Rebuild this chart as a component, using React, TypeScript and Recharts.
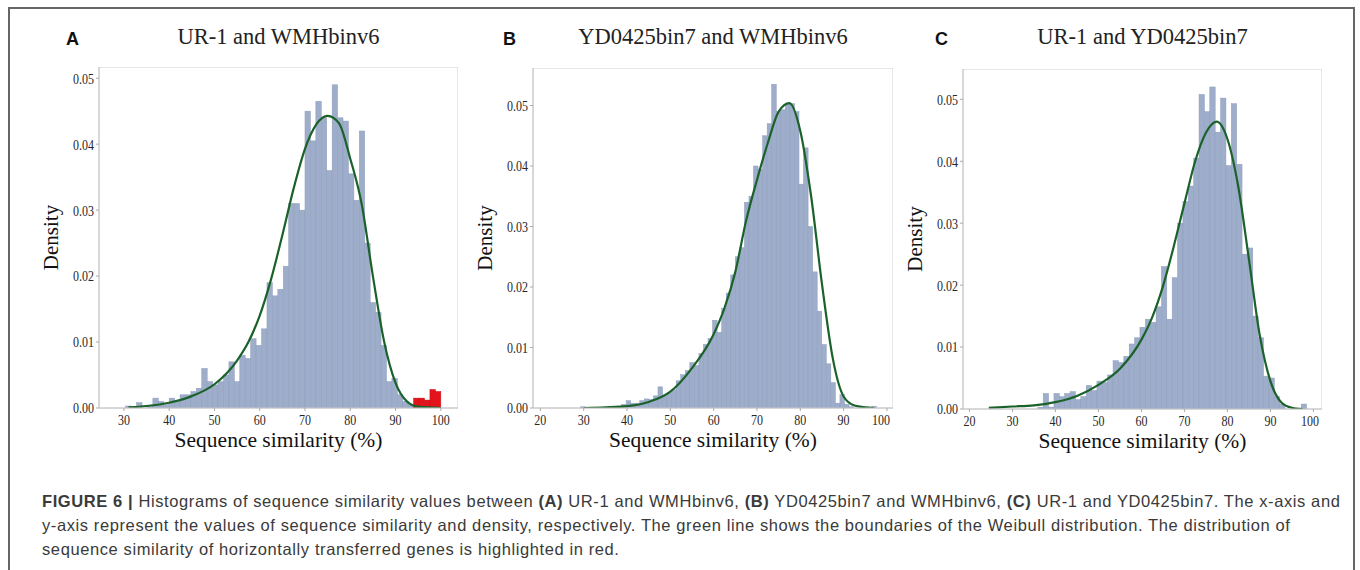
import React from "react";
import { ComposedChart, Bar, Line, XAxis, YAxis, ReferenceArea } from "recharts";

// A: UR-1 and WMHbinv6
const aBinStart = 30.4;
const aBinWidth = 1.2;
const aHist = [
  0.0003, 0.0001, 0.0008, 0, 0.0002, 0.0015, 0.001, 0.0005, 0.0015, 0.001,
  0.002, 0.002, 0.0025, 0.003, 0.006, 0.004, 0.0035, 0.004, 0.005, 0.007,
  0.004, 0.008, 0.0075, 0.0105, 0.0095, 0.012, 0.019, 0.017, 0.018, 0.0215,
  0.031, 0.031, 0.03, 0.045, 0.0405, 0.0465, 0.044, 0.036, 0.049, 0.044,
  0.0435, 0.0355, 0.0315, 0.042, 0.025, 0.016, 0.0145, 0.0095, 0.004, 0.0045,
  0.002, 0.001, 0.0005,
];
// horizontally transferred genes (red)
const aHgt = [0.0015, 0.0015, 0.0012, 0.0028, 0.0025];
const aCurveX = [31, 35, 40, 45, 50, 55, 57.5, 60, 62.5, 65, 67.5, 70, 72.5, 75, 77.5, 80, 82.5, 85, 87.5, 90, 92.5, 95, 100];
const aCurveY = [
  0.0001, 0.0003, 0.0008, 0.0018, 0.0036, 0.0072, 0.01, 0.014, 0.0195, 0.0262, 0.0333, 0.0393,
  0.043, 0.0443, 0.0432, 0.0378, 0.031, 0.02, 0.01, 0.0038, 0.001, 0.0002, 0,
];
const aTicks = [30, 40, 50, 60, 70, 80, 90, 100];

// B: YD0425bin7 and WMHbinv6
const bBinStart = 29.3;
const bBinWidth = 1.05;
const bHist = [
  0.0002, 0, 0, 0, 0, 0, 0, 0, 0, 0.0006,
  0.0012, 0.0008, 0.0008, 0.0012, 0.0015, 0.0014, 0.002, 0.0035, 0.002, 0.0025,
  0.003, 0.0045, 0.0055, 0.0062, 0.0075, 0.007, 0.009, 0.0105, 0.0115, 0.0145,
  0.0125, 0.0165, 0.019, 0.022, 0.025, 0.0265, 0.034, 0.035, 0.04, 0.0395,
  0.045, 0.047, 0.0535, 0.049, 0.0493, 0.0503, 0.0503, 0.049, 0.037, 0.043,
  0.03, 0.0225, 0.016, 0.0105, 0.0073, 0.0042, 0.0008, 0.0022, 0.0006, 0.0002,
  0, 0, 0, 0, 0.0003,
];
const bCurveX = [30, 35, 40, 45, 50, 55, 60, 62.5, 65, 67.5, 70, 72.5, 75, 77.5, 80, 82.5, 85, 87.5, 90, 92.5, 95, 97];
const bCurveY = [
  0, 0.0001, 0.0003, 0.001, 0.0027, 0.0066, 0.0122, 0.0165, 0.0225, 0.031, 0.0377, 0.0438,
  0.049, 0.0504, 0.0458, 0.035, 0.0205, 0.0082, 0.0019, 0.0004, 0.0001, 0,
];
const bTicks = [20, 30, 40, 50, 60, 70, 80, 90, 100];

// C: UR-1 and YD0425bin7
const cBinStart = 35.95;
const cBinWidth = 1.25;
const cHist = [
  0.0003, 0.0025, 0.0003, 0.0025, 0.002, 0.0025, 0.0028, 0.0015, 0.002, 0.0038,
  0.003, 0.0045, 0.0043, 0.0055, 0.0078, 0.0075, 0.0085, 0.0105, 0.0115, 0.0132,
  0.0145, 0.014, 0.0165, 0.023, 0.0145, 0.0212, 0.03, 0.0335, 0.036, 0.0405,
  0.0508, 0.048, 0.052, 0.0447, 0.0502, 0.0393, 0.0493, 0.0395, 0.025, 0.026,
  0.015, 0.0115, 0.0053, 0.005, 0.002, 0.0008, 0, 0, 0, 0.0008,
];
const cCurveX = [24.5, 30, 35, 40, 45, 50, 55, 60, 62.5, 65, 67.5, 70, 72.5, 75, 77.5, 80, 82.5, 85, 87.5, 90, 92.5, 95, 97.5];
const cCurveY = [
  0.0002, 0.0004, 0.0006, 0.0011, 0.0021, 0.0039, 0.0065, 0.0112, 0.0148, 0.0198, 0.0262, 0.0332,
  0.04, 0.0446, 0.0464, 0.0436, 0.036, 0.0242, 0.012, 0.0045, 0.0011, 0.0002, 0,
];
const cTicks = [20, 30, 40, 50, 60, 70, 80, 90, 100];

const yTicks = [0, 0.01, 0.02, 0.03, 0.04, 0.05];

const serif = "'Liberation Serif', 'DejaVu Serif', serif";
const sans = "'Liberation Sans', Arial, sans-serif";

const Y_W = 75;
const X_H = 55;

function binRows(start: number, width: number, blue: number[], red: number[] = []) {
  const rows = blue.map((v, i) => ({ x: start + width * (i + 0.5), blue: v, red: 0 }));
  red.forEach((v, i) => {
    const k = blue.length + i;
    rows.push({ x: start + width * (k + 0.5), blue: 0, red: v });
  });
  return rows;
}

function curveRows(xs: number[], ys: number[]) {
  return xs.map((x, i) => ({ x, y: ys[i] }));
}

// histogram bar: keep recharts' centre, widen to the full bin
function binShape(w: number, fill: string, stroke: string) {
  return (p: any) => {
    if (!p.height || p.height <= 0) return <g />;
    const cx = p.x + p.width / 2;
    return <rect x={cx - w / 2} y={p.y} width={w} height={p.height} fill={fill} stroke={stroke} strokeWidth={0.5} />;
  };
}

// narrow serif tick labels like the matplotlib output
function condTick(isY: boolean) {
  return (p: any) => {
    const label = isY ? Number(p.payload.value).toFixed(2) : String(p.payload.value);
    return (
      <g transform={`translate(${p.x},${p.y}) scale(0.8,1)`}>
        <text x={0} y={0} dy={isY ? "0.36em" : "0.78em"} textAnchor={isY ? "end" : "middle"}
          fontFamily={serif} fontSize={15} fill="#262626">{label}</text>
      </g>
    );
  };
}

type PanelProps = {
  left: number;
  top: number;
  plotW: number;
  plotH: number;
  domain: [number, number];
  yMax: number;
  ticks: number[];
  rows: { x: number; blue: number; red: number }[];
  curve: { x: number; y: number }[];
  binWidth: number;
};

function Panel({ left, top, plotW, plotH, domain, yMax, ticks, rows, curve, binWidth }: PanelProps) {
  const barSize = (binWidth * plotW) / (domain[1] - domain[0]);
  return (
    <div style={{ position: "absolute", left, top }}>
      <ComposedChart
        width={Y_W + plotW}
        height={plotH + X_H}
        data={rows}
        margin={{ top: 0, right: 0, left: 0, bottom: 0 }}
        barGap={0}
        barCategoryGap={0}
      >
        <XAxis
          dataKey="x"
          type="number"
          domain={domain}
          ticks={ticks}
          height={X_H}
          tick={condTick(false)}
          tickSize={3}
          tickLine={{ stroke: "#aaa" }}
          axisLine={{ stroke: "#c8c8c8" }}
          allowDataOverflow
          label={{ value: "Sequence similarity (%)", position: "insideBottom", offset: 16, style: { fontFamily: serif, fontSize: 21.5, fill: "#111" } }}
        />
        <YAxis
          type="number"
          domain={[0, yMax]}
          ticks={yTicks}
          width={Y_W}
          tick={condTick(true)}
          tickSize={3}
          tickLine={{ stroke: "#aaa" }}
          axisLine={{ stroke: "#c8c8c8" }}
          allowDataOverflow
          label={{ value: "Density", angle: -90, position: "insideLeft", offset: 27, style: { fontFamily: serif, fontSize: 21, fill: "#111", textAnchor: "middle" } }}
        />
        <ReferenceArea x1={domain[0]} x2={domain[1]} y1={0} y2={yMax} fill="none" fillOpacity={0} stroke="#cfcfcf" />
        <Bar dataKey="blue" stackId="h" shape={binShape(barSize, "#9eadca", "#8d9dbd")} isAnimationActive={false} />
        <Bar dataKey="red" stackId="h" shape={binShape(barSize, "#e3121b", "#c40f17")} isAnimationActive={false} />
        <Line data={curve} dataKey="y" type="monotone" stroke="#1b622a" strokeWidth={2.2} dot={false} activeDot={false} isAnimationActive={false} />
      </ComposedChart>
    </div>
  );
}

const titleStyle: React.CSSProperties = { position: "absolute", top: 24, fontFamily: serif, fontSize: 22.5, color: "#222", whiteSpace: "nowrap", textAlign: "center" };
const letterStyle: React.CSSProperties = { position: "absolute", top: 29, fontFamily: sans, fontWeight: 700, fontSize: 18, color: "#111" };
const capStyle: React.CSSProperties = { position: "absolute", left: 42, fontFamily: sans, fontSize: 16.5, letterSpacing: 0.6, color: "#3a3a3a", whiteSpace: "nowrap" };

export default function App() {
  return (
    <div style={{ position: "absolute", left: 0, top: 0, width: 1360, height: 570, background: "#fff", overflow: "hidden" }}>
      <div style={{ position: "absolute", left: 8, top: 7, width: 1343, height: 600, borderLeft: "2px solid #666", borderTop: "2px solid #666", borderRight: "2px solid #666" }} />

      <div style={{ ...letterStyle, left: 66 }}>A</div>
      <div style={{ ...titleStyle, left: 99, width: 359 }}>UR-1 and WMHbinv6</div>
      <div style={{ ...letterStyle, left: 503 }}>B</div>
      <div style={{ ...titleStyle, left: 533, width: 360 }}>YD0425bin7 and WMHbinv6</div>
      <div style={{ ...letterStyle, left: 935 }}>C</div>
      <div style={{ ...titleStyle, left: 963, width: 359 }}>UR-1 and YD0425bin7</div>

      <Panel left={99 - Y_W} top={67} plotW={359} plotH={341} domain={[24.5, 103.8]} yMax={0.0517} ticks={aTicks}
        rows={binRows(aBinStart, aBinWidth, aHist, aHgt)} curve={curveRows(aCurveX, aCurveY)} binWidth={aBinWidth} />
      <Panel left={533 - Y_W} top={68} plotW={360} plotH={340} domain={[18.3, 101.4]} yMax={0.0562} ticks={bTicks}
        rows={binRows(bBinStart, bBinWidth, bHist)} curve={curveRows(bCurveX, bCurveY)} binWidth={bBinWidth} />
      <Panel left={963 - Y_W} top={69} plotW={359} plotH={340} domain={[18.5, 102]} yMax={0.0549} ticks={cTicks}
        rows={binRows(cBinStart, cBinWidth, cHist)} curve={curveRows(cCurveX, cCurveY)} binWidth={cBinWidth} />

      <div style={{ ...capStyle, top: 492 }}>
        <b>FIGURE 6 |</b> Histograms of sequence similarity values between <b>(A)</b> UR-1 and WMHbinv6, <b>(B)</b> YD0425bin7 and WMHbinv6, <b>(C)</b> UR-1 and YD0425bin7. The x-axis and
      </div>
      <div style={{ ...capStyle, top: 516 }}>
        y-axis represent the values of sequence similarity and density, respectively. The green line shows the boundaries of the Weibull distribution. The distribution of
      </div>
      <div style={{ ...capStyle, top: 540 }}>
        sequence similarity of horizontally transferred genes is highlighted in red.
      </div>
    </div>
  );
}
